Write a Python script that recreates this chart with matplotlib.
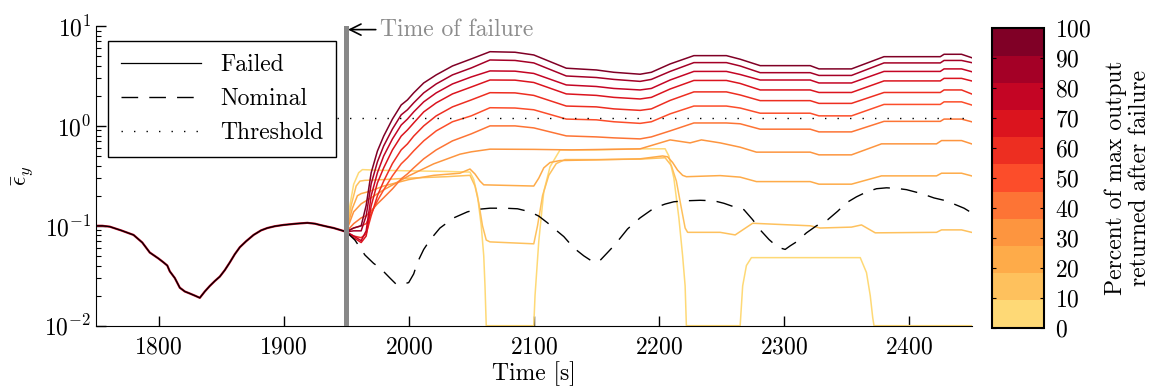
import matplotlib
matplotlib.use('Agg')
import matplotlib.pyplot as plt
import numpy as np
from matplotlib.colors import ListedColormap, Normalize
from matplotlib.cm import ScalarMappable

# ---- data ----
t_pre = [1750, 1755, 1761, 1770, 1780, 1787, 1793, 1800, 1804, 1807, 1809, 1813, 1817, 1821, 1825, 1829,
         1833, 1837, 1841, 1845, 1849, 1853, 1857, 1861, 1865, 1870, 1876, 1882, 1887, 1893, 1900, 1910,
         1919, 1925, 1929, 1935, 1940, 1945, 1950]
e_pre = [0.1, 0.1, 0.098, 0.09, 0.081, 0.068, 0.054, 0.047, 0.043, 0.04, 0.035, 0.03, 0.024, 0.022, 0.021, 0.02,
         0.019, 0.022, 0.025, 0.028, 0.031, 0.036, 0.043, 0.052, 0.061, 0.07, 0.081, 0.09, 0.095, 0.099, 0.102, 0.105,
         0.107, 0.105, 0.102, 0.098, 0.095, 0.091, 0.087]

t_nom = [1950, 1957, 1965, 1972, 1977, 1985, 1990, 1995, 2000, 2004, 2007, 2012, 2017, 2025, 2036, 2047, 2055,
         2065, 2077, 2087, 2097, 2104, 2111, 2118, 2124, 2132, 2140, 2148, 2153, 2159, 2164, 2169, 2175, 2185,
         2196, 2205, 2212, 2222, 2233, 2244, 2252, 2260, 2268, 2275, 2281, 2288, 2295, 2301, 2305, 2310, 2318,
         2326, 2335, 2343, 2350, 2358, 2366, 2374, 2382, 2390, 2398, 2410, 2420, 2428, 2436, 2444, 2450]
e_nom = [0.087, 0.072, 0.051, 0.042, 0.038, 0.03, 0.026, 0.026, 0.027, 0.033, 0.043, 0.058, 0.072, 0.095, 0.12,
         0.138, 0.146, 0.15, 0.15, 0.148, 0.138, 0.125, 0.107, 0.09, 0.078, 0.06, 0.05, 0.043, 0.045, 0.054, 0.063,
         0.075, 0.093, 0.12, 0.15, 0.165, 0.174, 0.178, 0.18, 0.178, 0.168, 0.155, 0.145, 0.115, 0.091, 0.073,
         0.061, 0.058, 0.063, 0.069, 0.085, 0.1, 0.115, 0.14, 0.17, 0.195, 0.218, 0.235, 0.24, 0.237, 0.23, 0.21,
         0.19, 0.18, 0.165, 0.15, 0.135]

# runs returning 40..100 % share one time grid
t_up = [1950, 1956, 1962, 1966, 1970, 1975, 1980, 1987, 1994, 1999, 2004, 2012, 2022, 2035, 2050, 2065, 2085,
        2100, 2126, 2150, 2164, 2185, 2194, 2209, 2228, 2254, 2265, 2281, 2321, 2328, 2354, 2380, 2425, 2428,
        2442, 2450]
e_100 = [0.087, 0.095, 0.1, 0.16, 0.34, 0.56, 0.79, 1.17, 1.62, 1.82, 2.14, 2.69, 3.24, 3.98, 4.68, 5.53, 5.46,
         5.13, 3.78, 3.63, 3.44, 3.29, 3.44, 4.17, 5.05, 5.05, 4.65, 4.01, 4.01, 3.72, 3.72, 4.93, 4.93, 5.21,
         5.21, 4.82]
e_90 = [0.087, 0.089, 0.089, 0.126, 0.263, 0.437, 0.63, 0.93, 1.29, 1.45, 1.70, 2.14, 2.63, 3.24, 3.80, 4.57,
        4.52, 4.27, 3.16, 3.05, 2.92, 2.79, 2.92, 3.51, 4.30, 4.30, 3.98, 3.41, 3.41, 3.20, 3.20, 4.27, 4.27,
        4.52, 4.52, 4.30]
e_80 = [0.087, 0.079, 0.071, 0.089, 0.2, 0.34, 0.5, 0.74, 1.02, 1.17, 1.38, 1.74, 2.14, 2.63, 3.09, 3.55, 3.53,
        3.35, 2.57, 2.48, 2.37, 2.29, 2.37, 2.88, 3.51, 3.51, 3.27, 2.88, 2.88, 2.69, 2.69, 3.51, 3.51, 3.72,
        3.72, 3.49]
e_70 = [0.087, 0.076, 0.068, 0.079, 0.158, 0.269, 0.38, 0.575, 0.79, 0.91, 1.07, 1.38, 1.70, 2.09, 2.45, 2.88,
        2.87, 2.72, 2.09, 2.02, 1.93, 1.86, 1.93, 2.34, 2.85, 2.85, 2.66, 2.29, 2.29, 2.16, 2.16, 2.82, 2.82,
        2.99, 2.99, 2.82]
e_60 = [0.087, 0.079, 0.076, 0.083, 0.126, 0.2, 0.28, 0.42, 0.575, 0.66, 0.79, 1.0, 1.26, 1.55, 1.82, 2.15,
        2.14, 2.02, 1.58, 1.55, 1.48, 1.43, 1.48, 1.80, 2.19, 2.19, 2.04, 1.79, 1.79, 1.68, 1.68, 2.16, 2.16,
        2.29, 2.29, 2.09]
e_50 = [0.087, 0.095, 0.1, 0.105, 0.132, 0.178, 0.229, 0.316, 0.417, 0.479, 0.562, 0.708, 0.891, 1.10, 1.26,
        1.52, 1.51, 1.45, 1.17, 1.15, 1.10, 1.06, 1.10, 1.32, 1.58, 1.58, 1.51, 1.34, 1.34, 1.26, 1.26, 1.64,
        1.64, 1.74, 1.74, 1.62]
e_40 = [0.087, 0.105, 0.12, 0.126, 0.141, 0.166, 0.191, 0.234, 0.295, 0.331, 0.38, 0.468, 0.575, 0.708, 0.832,
        1.0, 1.0, 0.955, 0.794, 0.776, 0.759, 0.741, 0.776, 0.891, 1.07, 1.07, 1.05, 0.927, 0.927, 0.871, 0.871,
        1.11, 1.11, 1.17, 1.17, 1.10]

t_30 = [1950, 1956, 1962, 1970, 1980, 1990, 2000, 2020, 2041, 2050, 2065, 2100, 2130, 2185, 2209, 2225, 2234,
        2249, 2265, 2278, 2321, 2328, 2354, 2378, 2422, 2426, 2442, 2450]
e_30 = [0.087, 0.138, 0.166, 0.191, 0.229, 0.269, 0.316, 0.417, 0.521, 0.55, 0.585, 0.582, 0.575, 0.589, 0.724,
        0.676, 0.724, 0.676, 0.612, 0.546, 0.546, 0.513, 0.513, 0.661, 0.661, 0.713, 0.713, 0.661]

t_20 = [1950, 1955, 1959, 1962, 1968, 1980, 2000, 2020, 2041, 2049, 2053, 2057, 2060, 2100, 2104, 2108, 2113,
        2121, 2150, 2185, 2203, 2207, 2211, 2215, 2219, 2222, 2249, 2265, 2278, 2321, 2328, 2354, 2378, 2422,
        2426, 2442, 2450]
e_20 = [0.087, 0.15, 0.2, 0.21, 0.22, 0.25, 0.29, 0.32, 0.336, 0.37, 0.33, 0.28, 0.257, 0.25, 0.3, 0.38, 0.43,
        0.45, 0.457, 0.468, 0.5, 0.49, 0.43, 0.36, 0.32, 0.31, 0.318, 0.307, 0.277, 0.277, 0.261, 0.261, 0.316,
        0.316, 0.336, 0.336, 0.316]

t_10 = [1950, 1954, 1958, 1961, 1965, 1980, 2000, 2030, 2049, 2053, 2056, 2059, 2062, 2065, 2100, 2103, 2107,
        2112, 2118, 2125, 2150, 2185, 2205, 2210, 2214, 2218, 2221, 2223, 2249, 2261, 2275, 2321, 2329, 2354,
        2362, 2373, 2422, 2426, 2442, 2450]
e_10 = [0.087, 0.16, 0.25, 0.28, 0.285, 0.29, 0.3, 0.31, 0.32, 0.25, 0.17, 0.1, 0.072, 0.069, 0.066, 0.1, 0.2,
        0.32, 0.42, 0.46, 0.46, 0.465, 0.48, 0.4, 0.28, 0.15, 0.095, 0.086, 0.086, 0.081, 0.106, 0.1, 0.095,
        0.097, 0.102, 0.085, 0.086, 0.091, 0.091, 0.086]

t_0 = [1950, 1953, 1956, 1960, 1963, 1975, 2000, 2030, 2049, 2052, 2055, 2058, 2060, 2061, 2062, 2100, 2101,
       2104, 2108, 2113, 2121, 2150, 2185, 2205, 2208, 2212, 2216, 2219, 2221, 2222, 2265, 2267, 2270, 2274,
       2361, 2366, 2369, 2371, 2372, 2450]
e_0 = [0.087, 0.16, 0.26, 0.34, 0.365, 0.36, 0.355, 0.35, 0.345, 0.29, 0.2, 0.1, 0.05, 0.025, 0.01, 0.01, 0.02,
       0.07, 0.22, 0.39, 0.575, 0.575, 0.589, 0.59, 0.5, 0.3, 0.12, 0.05, 0.025, 0.01, 0.01, 0.025, 0.04, 0.048,
       0.048, 0.034, 0.02, 0.012, 0.01, 0.01]

runs = [(t_0, e_0), (t_10, e_10), (t_20, e_20), (t_30, e_30), (t_up, e_40), (t_up, e_50),
        (t_up, e_60), (t_up, e_70), (t_up, e_80), (t_up, e_90), (t_up, e_100)]
pct_ticks = [0, 10, 20, 30, 40, 50, 60, 70, 80, 90, 100]
t_fail = 1950
threshold = 1.2

# ---- style ----
plt.rcParams['font.family'] = 'serif'
plt.rcParams['font.serif'] = ['cmr10']
plt.rcParams['mathtext.fontset'] = 'cm'
plt.rcParams['axes.formatter.use_mathtext'] = True
plt.rcParams['axes.unicode_minus'] = False
plt.rcParams['font.size'] = 17

cols = plt.get_cmap('YlOrRd')(np.linspace(0.25, 1.0, 11))
cmap = ListedColormap(cols)

fig = plt.figure(figsize=(11.51, 3.88), dpi=100)
ax = fig.add_axes([0.0834, 0.1606, 0.7607, 0.7724])

# colored runs, pre-failure part drawn once in a dark red
ax.plot(t_pre, e_pre, color=cols[-3], lw=1.6, zorder=2)
for i, (t, e) in enumerate(runs):
    ax.plot(t, e, color=cols[i], lw=1.1, zorder=2)

ax.plot(t_pre, e_pre, color='k', lw=0.9, zorder=3, label='Failed')
ax.plot(t_nom, e_nom, color='k', lw=1.0, ls=(0, (12, 8)), zorder=3, label='Nominal')
ax.plot([1943, 2450], [threshold, threshold], color='k', lw=1.0, ls=(0, (1, 8)), zorder=3, label='Threshold')

ax.axvline(t_fail, color='#888888', lw=3.6, zorder=4)
ax.annotate('Time of failure', xy=(t_fail + 1.5, 9.2), xytext=(1977, 9.2), color='#8c8c8c',
            va='center', ha='left',
            arrowprops=dict(arrowstyle='->', color='k', lw=1.2, shrinkA=1, shrinkB=0, mutation_scale=20))

ax.set_yscale('log')
ax.set_xlim(1750, 2450)
ax.set_ylim(1e-2, 1e1)
ax.set_xticks([1800, 1900, 2000, 2100, 2200, 2300, 2400])
ax.tick_params(which='both', direction='in', top=False, right=False)
ax.tick_params(which='major', length=7, width=1)
ax.tick_params(which='minor', length=3.5, width=0.8)
ax.tick_params(axis='x', pad=8)
ax.spines['top'].set_visible(False)
ax.spines['right'].set_visible(False)
ax.set_xlabel('Time [s]', labelpad=2)
ax.set_ylabel(r'$\bar{\epsilon}_y$', labelpad=6)

leg = ax.legend(loc='upper left', bbox_to_anchor=(0.0137, 0.95), borderaxespad=0, fancybox=False,
                edgecolor='k', framealpha=1, handlelength=3.4, labelspacing=0.5, borderpad=0.55)
leg.get_frame().set_linewidth(1.0)
leg.set_zorder(5)

# colorbar
cax = fig.add_axes([0.8616, 0.1554, 0.0457, 0.7716])
sm = ScalarMappable(norm=Normalize(0, 100), cmap=cmap)
cb = fig.colorbar(sm, cax=cax, ticks=pct_ticks)
cb.outline.set_linewidth(1.5)
cb.ax.tick_params(direction='in', length=3, left=True, right=True, pad=8)
cb.set_label('Percent of max output\nreturned after failure', labelpad=9, linespacing=1.1)

fig.savefig('out.png', dpi=100)
